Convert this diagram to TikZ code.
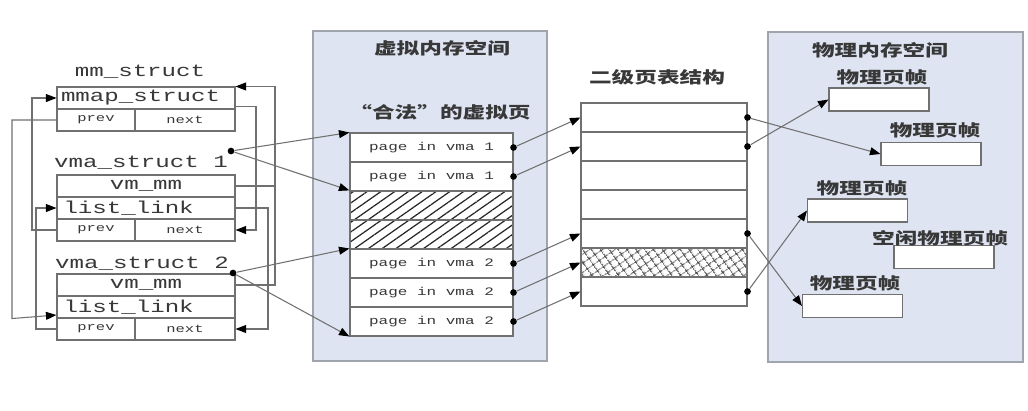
\documentclass[tikz,border=0pt]{standalone}
\usepackage{fontspec}
\newfontfamily\codefont[FakeStretch=1.4]{Liberation Mono}
\newfontfamily\cjk[FakeStretch=1.4]{Noto Sans CJK SC}
\usetikzlibrary{arrows.meta,patterns.meta}
\definecolor{panelblue}{HTML}{DFE4F2}
\definecolor{edgegray}{HTML}{A0A4AC}
\definecolor{linegray}{HTML}{707070}
\definecolor{inkgray}{HTML}{383838}

\begin{document}
\begin{tikzpicture}[x=0.02cm,y=-0.02cm,
    cell/.style={draw=linegray,fill=white,line width=0.6pt,inner sep=0pt,text=inkgray,
      font=\codefont\fontsize{9.8}{10}\selectfont},
    field/.style={cell,minimum width=3.56cm,minimum height=0.44cm},
    smallcell/.style={cell,minimum height=0.44cm,font=\codefont\fontsize{6.3}{7}\selectfont},
    vpage/.style={cell,minimum width=3.26cm,minimum height=0.58cm,font=\codefont\fontsize{6.5}{7}\selectfont},
    hatched/.style={vpage,preaction={fill=white},pattern={Lines[angle=35,distance=4.5pt,line width=0.7pt]},pattern color=black!85},
    pte/.style={cell,minimum width=3.32cm,minimum height=0.58cm},
    meshed/.style={pte,preaction={fill=white},pattern={Hatch[angle=35,distance=4pt,line width=0.6pt]},pattern color=black!80},
    pfbox/.style={cell,minimum width=2cm,minimum height=0.46cm},
    panel/.style={draw=edgegray,fill=panelblue,line width=0.8pt,inner sep=0pt},
    heading/.style={font=\cjk\bfseries\fontsize{9.2}{10}\selectfont,text=inkgray,inner sep=0pt},
    tag/.style={font=\codefont\fontsize{9.8}{10}\selectfont,text=inkgray,inner sep=0pt},
    dot/.style={circle,fill=black,inner sep=0pt,minimum size=3.8pt},
    link/.style={draw=linegray,line width=0.6pt},
    ptr/.style={link,-{Triangle[length=6pt,width=4.5pt,color=black]}}]
  \useasboundingbox (0,0) rectangle (1028,410);

  % panels
  \node[panel,minimum width=4.68cm,minimum height=6.6cm] (vspace) at (430,196) {};
  \node[panel,minimum width=5.1cm,minimum height=6.6cm] (pspace) at (895.5,197) {};
  \node[heading] (vtitle) at (442,48) {虚拟内存空间};
  \node[heading] (legal) at (440,112) {“合法”的虚拟页};
  \node[heading] (ttitle) at (657,77) {二级页表结构};
  \node[heading] (ptitle) at (880,50) {物理内存空间};

  % mm_struct and the two vma_structs
  \node[tag] (mmname) at (140,72) {mm\_struct};
  \node[field,text width=3.4cm,align=left] (mmap) at (146,98) {mmap\_struct};
  \node[smallcell,minimum width=1.56cm] (mmprev) at (96,120) {prev};
  \node[smallcell,minimum width=2cm] (mmnext) at (185,120) {next};

  \node[tag] (v1name) at (141,163) {vma\_struct 1};
  \node[field] (v1mm) at (146,186) {vm\_mm};
  \node[field,text width=3.3cm,align=left] (v1link) at (146,208) {list\_link};
  \node[smallcell,minimum width=1.56cm] (v1prev) at (96,230) {prev};
  \node[smallcell,minimum width=2cm] (v1next) at (185,230) {next};

  \node[tag] (v2name) at (142,264) {vma\_struct 2};
  \node[field] (v2mm) at (146,285) {vm\_mm};
  \node[field,text width=3.3cm,align=left] (v2link) at (146,307) {list\_link};
  \node[smallcell,minimum width=1.56cm] (v2prev) at (96,329) {prev};
  \node[smallcell,minimum width=2cm] (v2next) at (185,329) {next};

  \coordinate (railA) at (275,0);
  \coordinate (railB) at (256,0);
  \coordinate (railC) at (268,0);
  \coordinate (railD) at (12,0);
  \coordinate (railE) at (32,0);
  \coordinate (railF) at (36,0);

  \draw[link] (v1mm.east) -- (v1mm.east -| railA);
  \draw[ptr] (v2mm.east) -| (railA |- mmap.north east) -- (mmap.north east);
  \draw[ptr] ([yshift=1.5pt]mmap.south east) -| (railB |- v1next.east) -- (v1next.east);
  \draw[ptr] (v1link.east) -| (railC |- v2next.east) -- (v2next.east);
  \draw[ptr] (mmprev.west) -| (railD |- v2link.south west) -- ([yshift=2pt]v2link.south west);
  \draw[ptr] (v1prev.west) -| (railE |- mmap.west) -- (mmap.west);
  \draw[ptr] (v2prev.west) -| (railF |- v1link.west) -- (v1link.west);

  % virtual pages
  \node[vpage] (p1) at (431.5,147.5) {page in vma 1};
  \node[vpage] (p2) at (431.5,176.5) {page in vma 1};
  \node[hatched] (h1) at (431.5,205.5) {};
  \node[hatched] (h2) at (431.5,234.5) {};
  \node[vpage] (q1) at (431.5,263.5) {page in vma 2};
  \node[vpage] (q2) at (431.5,292.5) {page in vma 2};
  \node[vpage] (q3) at (431.5,321.5) {page in vma 2};

  % page table
  \node[pte] (t1) at (664,117.5) {};
  \node[pte] (t2) at (664,146.5) {};
  \node[pte] (t3) at (664,175.5) {};
  \node[pte] (t4) at (664,204.5) {};
  \node[pte] (t5) at (664,233.5) {};
  \node[meshed] (t6) at (664,262.5) {};
  \node[pte] (t7) at (664,291.5) {};

  % physical frames
  \node[pfbox] (f1) at (879,99.5) {};
  \node[pfbox] (f2) at (931,154) {};
  \node[pfbox] (f3) at (857.5,210.5) {};
  \node[pfbox] (f4) at (944,257) {};
  \node[pfbox] (f5) at (852.5,306) {};
  \node[heading] (f1lab) at (882,77) {物理页帧};
  \node[heading] (f2lab) at (935,130) {物理页帧};
  \node[heading] (f3lab) at (862,188) {物理页帧};
  \node[heading] (f4lab) at (940,238) {空闲物理页帧};
  \node[heading] (f5lab) at (855,283) {物理页帧};

  % dots
  \node[dot] (d1) at (231,151) {};
  \node[dot] (d2) at (233,273) {};
  \node[dot] (p1d) at (p1.east) {};
  \node[dot] (p2d) at (p2.east) {};
  \node[dot] (q1d) at (q1.east) {};
  \node[dot] (q2d) at (q2.east) {};
  \node[dot] (q3d) at (q3.east) {};
  \node[dot] (t1d) at (t1.east) {};
  \node[dot] (t2d) at (t2.east) {};
  \node[dot] (t5d) at (t5.east) {};
  \node[dot] (t7d) at (t7.east) {};

  \draw[ptr] (d1) -- (p1.north west);
  \draw[ptr] (d1) -- (h1.north west);
  \draw[ptr] (d2) -- (q1.north west);
  \draw[ptr] (d2) -- (q3.south west);

  \draw[ptr] (p1d) -- (t1.west);
  \draw[ptr] (p2d) -- (t2.west);
  \draw[ptr] (q1d) -- (t5.west);
  \draw[ptr] (q2d) -- (t6.west);
  \draw[ptr] (q3d) -- (t7.west);

  \draw[ptr] (t1d) -- (f2.west);
  \draw[ptr] (t2d) -- (f1.west);
  \draw[ptr] (t5d) -- (f5.west);
  \draw[ptr] (t7d) -- (f3.west);
\end{tikzpicture}
\end{document}
